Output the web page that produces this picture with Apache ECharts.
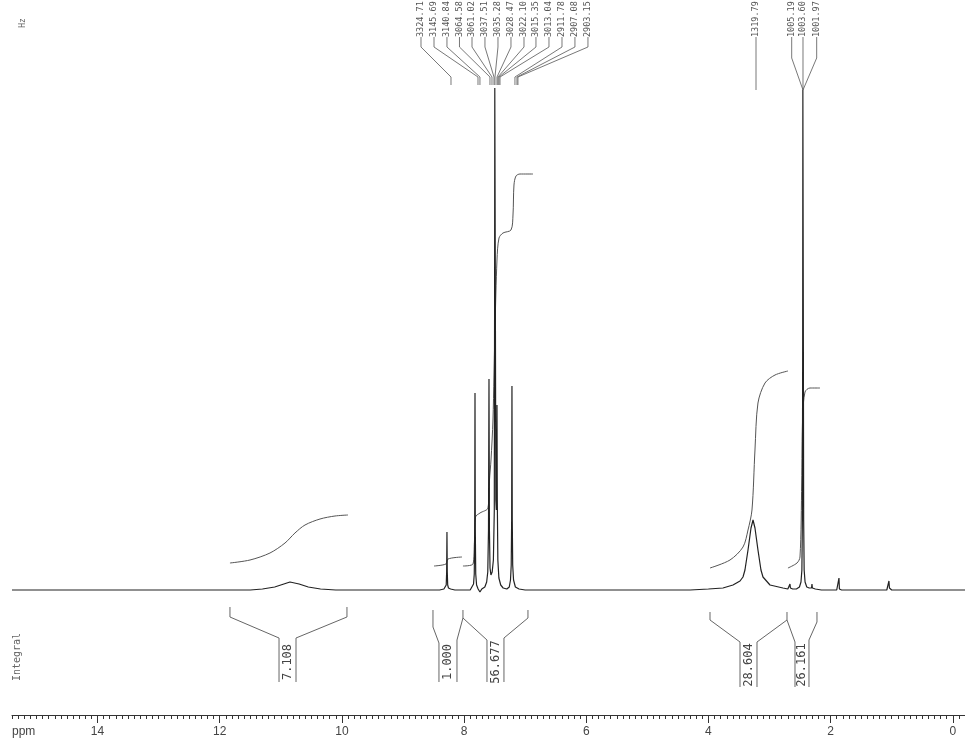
<!DOCTYPE html>
<html>
<head>
<meta charset="utf-8">
<script src="https://cdn.jsdelivr.net/npm/echarts@6/dist/echarts.min.js"></script>
<style>html,body{margin:0;padding:0;background:#fff}#c{width:965px;height:746px}</style>
</head>
<body>
<div id="c"></div>
<script>
// ---- data (ppm, intensity; baseline = 0) ----
const ppmTicks = [0, 2, 4, 6, 8, 10, 12, 14];

const spectrum = [
  [15.4,0],[13.0,0],[11.5,0],[11.3,1],[11.1,3],[10.95,6],[10.85,8],[10.7,6],[10.55,3],[10.35,1],[10.1,0],
  [8.40,0],[8.33,1],[8.305,2],[8.292,5],[8.285,18],[8.280,58],[8.275,18],[8.268,5],[8.255,2],[8.22,1],[8.15,0],
  [7.90,0],[7.87,1],[7.845,6],[7.833,16],[7.826,60],[7.821,197],[7.816,60],[7.809,16],[7.795,5],[7.77,1],[7.74,-2],
  [7.71,1],[7.66,3],[7.63,8],[7.612,18],[7.600,60],[7.592,211],[7.585,60],[7.575,22],[7.56,15],[7.54,18],[7.52,30],
  [7.505,80],[7.500,300],[7.497,502],[7.491,502],[7.488,300],[7.480,90],[7.472,80],[7.465,130],[7.461,185],[7.456,90],
  [7.447,30],[7.43,12],[7.40,5],[7.36,2],[7.30,1],[7.26,3],[7.24,10],[7.228,25],[7.221,70],[7.216,204],[7.211,70],
  [7.204,25],[7.19,10],[7.16,3],[7.10,1],[7.0,0],
  [4.30,0],[4.0,1],[3.762,2],[3.598,5],[3.483,9],[3.434,13],[3.402,20],[3.352,40],[3.303,62],[3.270,70],[3.238,62],
  [3.189,40],[3.140,20],[3.107,13],[2.992,5],[2.780,2],[2.70,1],[2.672,2],[2.665,6],[2.658,2],[2.62,1],
  [2.56,1],[2.51,3],[2.485,8],[2.47,20],[2.462,70],[2.457,250],[2.454,500],[2.449,500],[2.446,250],[2.441,70],
  [2.433,20],[2.418,8],[2.39,3],[2.35,2],[2.312,2],[2.305,6],[2.298,2],[2.25,1],[2.15,0],
  [1.90,0],[1.87,1],[1.863,12],[1.856,1],[1.82,0],[1.08,0],[1.053,2],[1.045,9],[1.037,2],[1.00,0],[-0.2,0]
];

const integralCurve1 = [[11.832,27],[11.504,30],[11.177,37],[10.931,47],[10.768,57],[10.604,65],[10.358,71],[10.113,74],[9.900,75]];
const integralCurve2 = [[8.492,24],[8.296,26],[8.263,31],[8.034,33]];
const integralCurve3 = [[8.018,24],[7.854,26],[7.829,50],[7.813,73],[7.739,77],[7.608,82],[7.584,110],[7.559,130],[7.527,170],
  [7.494,260],[7.461,330],[7.428,352],[7.363,357],[7.232,360],[7.199,375],[7.183,405],[7.150,414],[7.085,416],[6.872,416]];
const integralCurve4 = [[3.974,22],[3.647,30],[3.434,43],[3.352,60],[3.287,80],[3.238,140],[3.189,187],[3.074,207],[2.910,215],[2.698,219]];
const integralCurve5 = [[2.698,22],[2.550,27],[2.501,33],[2.473,107],[2.457,173],[2.419,198],[2.338,202],[2.174,202]];

const integralValues = ['7.108', '1.000', '56.677', '28.604', '26.161'];
const integralLabelPpm = [10.890, 8.263, 7.486, 3.344, 2.469];
const integralLabelY = [-72, -72, -72, -75, -75];
const bracketLines = [
  [[11.832,-17],[11.832,-27],[11.029,-48],[11.029,-92]],
  [[10.751,-92],[10.751,-48],[9.917,-27],[9.917,-17]],
  [[8.509,-20],[8.509,-37],[8.411,-53],[8.411,-92]],
  [[8.116,-92],[8.116,-50],[8.018,-28],[8.018,-20]],
  [[8.018,-28],[7.625,-50],[7.625,-92]],
  [[7.347,-92],[7.347,-48],[6.954,-28],[6.954,-20]],
  [[3.974,-22],[3.974,-30],[3.483,-52],[3.483,-97]],
  [[3.205,-97],[3.205,-52],[2.714,-30],[2.714,-22]],
  [[2.714,-30],[2.583,-52],[2.583,-97]],
  [[2.354,-97],[2.354,-50],[2.223,-32],[2.223,-22]]
];

const hzLabels = ['3324.71','3145.69','3140.84','3064.58','3061.02','3037.51','3035.28','3028.47','3022.10',
  '3015.35','3013.04','2911.78','2907.08','2903.15','1319.79','1005.19','1003.60','1001.97'];
const hzLabelPpm = [8.705,8.492,8.280,8.075,7.870,7.658,7.445,7.232,7.019,6.823,6.610,6.397,6.185,5.972,3.221,2.637,2.452,2.228];
const hzTargetPpm = [8.214,7.772,7.740,7.576,7.543,7.510,7.494,7.461,7.445,7.429,7.412,7.167,7.134,7.118,3.221,2.452,2.452,2.452];

// ---- build chart ----
const TXT = '#444';
const series = [];
series.push({type:'line', data: spectrum, showSymbol:false, symbol:'none', lineStyle:{color:'#222', width:1.2}, z:3, animation:false});
[integralCurve1, integralCurve2, integralCurve3, integralCurve4, integralCurve5].forEach(c => {
  series.push({type:'line', data:c, smooth:0.3, symbol:'none', lineStyle:{color:'#555', width:1}, z:2, animation:false});
});
bracketLines.forEach(b => {
  series.push({type:'line', data:b, symbol:'none', lineStyle:{color:'#666', width:1}, z:2, animation:false});
});
hzLabels.forEach((t, i) => {
  const lp = hzLabelPpm[i], tp = hzTargetPpm[i];
  const pts = i < 14 ? [[lp,553],[lp,543],[tp,513],[tp,505]] : [[lp,553],[lp,532],[tp,500]];
  series.push({type:'line', data:pts, symbol:'none', lineStyle:{color:'#555', width:0.8}, z:2, animation:false});
});
series.push({
  type:'custom', animation:false, z:4,
  data: hzLabels.map((t,i)=>[hzLabelPpm[i], 553]),
  renderItem: (params, api) => {
    const p = api.coord([api.value(0), api.value(1)]);
    return {type:'text', x:p[0], y:p[1], rotation:Math.PI/2,
      style:{text:hzLabels[params.dataIndex], fill:'#555', font:'8.5px "DejaVu Sans Mono"',
        align:'left', verticalAlign:'middle', textAlign:'left', textVerticalAlign:'middle'}};
  }
});
series.push({
  type:'custom', animation:false, z:4,
  data: integralValues.map((t,i)=>[integralLabelPpm[i], integralLabelY[i]]),
  renderItem: (params, api) => {
    const p = api.coord([api.value(0), api.value(1)]);
    return {type:'text', x:p[0], y:p[1], rotation:Math.PI/2,
      style:{text:integralValues[params.dataIndex], fill:TXT, font:'12px "DejaVu Sans Mono"',
        align:'center', verticalAlign:'middle', textAlign:'center', textVerticalAlign:'middle'}};
  }
});

const chart = echarts.init(document.getElementById('c'), null, {renderer:'canvas'});
chart.setOption({
  backgroundColor:'#fff',
  animation:false,
  grid:{left:12, right:0, top:0, bottom:31, containLabel:false},
  xAxis:[
    {type:'value', min:-0.2, max:15.4, inverse:true, interval:0.1, position:'bottom',
      axisLine:{show:true, onZero:false, lineStyle:{color:'#333', width:1}},
      axisTick:{show:true, length:4, lineStyle:{color:'#333', width:1}},
      axisLabel:{show:false}, splitLine:{show:false}},
    {type:'value', min:-0.2, max:15.4, inverse:true, position:'bottom',
      axisLine:{show:false, onZero:false},
      axisTick:{show:true, length:8, customValues:ppmTicks, lineStyle:{color:'#333', width:1}},
      axisLabel:{show:true, customValues:ppmTicks, margin:11, color:TXT, fontSize:12, fontFamily:'Liberation Sans'},
      splitLine:{show:false}}
  ],
  yAxis:{type:'value', min:-125, max:590, show:false},
  graphic:[
    {type:'text', left:12, top:726, style:{text:'ppm', fill:TXT, font:'12px "Liberation Sans"'}},
    {type:'text', x:17, y:657, rotation:Math.PI/2, style:{text:'Integral', fill:'#666', font:'10px "DejaVu Sans Mono"', align:'center', verticalAlign:'middle', textAlign:'center', textVerticalAlign:'middle'}},
    {type:'text', x:23, y:23, rotation:Math.PI/2, style:{text:'Hz', fill:'#666', font:'8px "DejaVu Sans Mono"', align:'center', verticalAlign:'middle', textAlign:'center', textVerticalAlign:'middle'}}
  ],
  series: series
});
</script>
</body>
</html>
